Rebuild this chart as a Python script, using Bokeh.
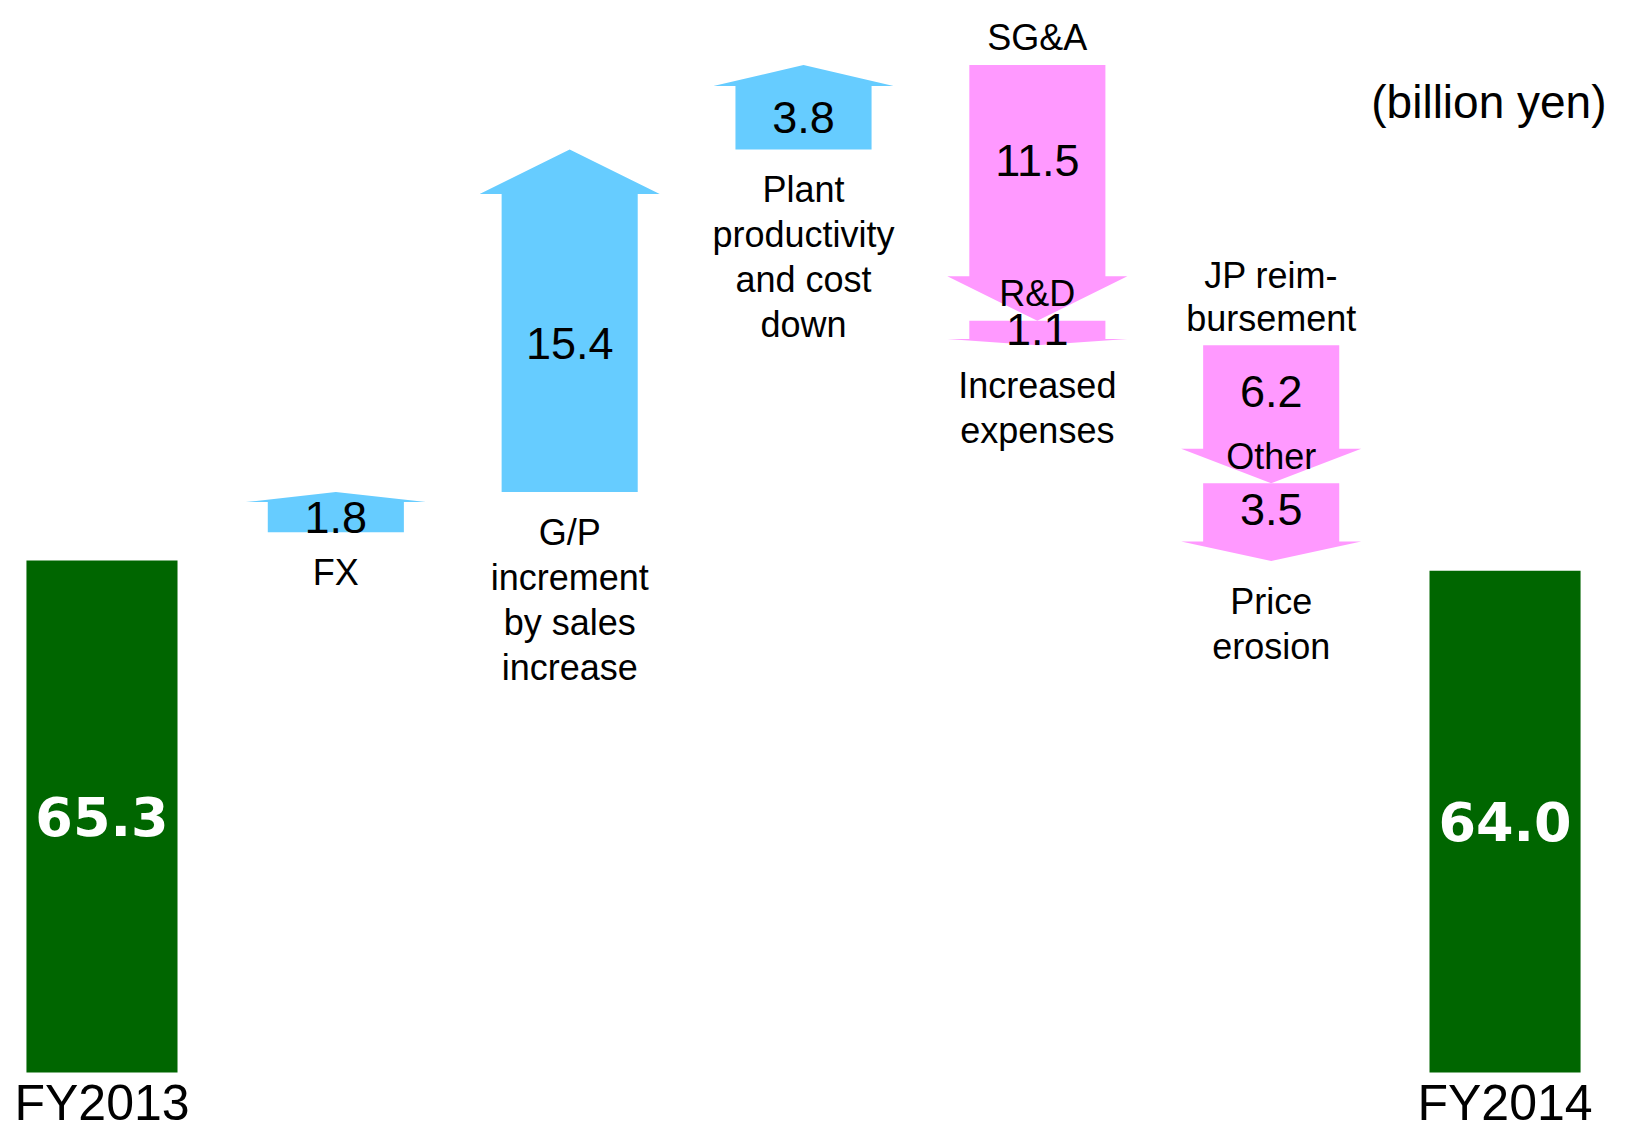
import numpy as np
from bokeh.plotting import figure
from bokeh.models import Range1d, ColumnDataSource
from bokeh.core.properties import value
from bokeh.embed import file_html
from bokeh.resources import INLINE

# ---------------- data ----------------
total_labels = ["FY2013", "FY2014"]
total_values = [65.3, 64.0]

change_items = ["", "", "", "SG&A", "R&D", "JP reim-\nbursement", "Other"]
change_values = [1.8, 15.4, 3.8, -11.5, -1.1, -6.2, -3.5]
change_group = [0, 1, 2, 3, 3, 4, 4]

group_labels = ["FX",
                "G/P\nincrement\nby sales\nincrease",
                "Plant\nproductivity\nand cost\ndown",
                "Increased\nexpenses",
                "Price\nerosion"]

unit_note = "(billion yen)"

# ---------------- style ----------------
UP = "#66CCFF"
DOWN = "#FF99FF"
TOTAL = "#006600"
FONT = "Liberation Sans"
BOX_HALF = 0.291
HEAD_HALF = 0.385
BAR_W = 0.646

# ---------------- layout ----------------
n_groups = len(group_labels)
total_x = [0, n_groups + 1]
change_x = [g + 1 for g in change_group]

levels = np.concatenate([[total_values[0]], total_values[0] + np.cumsum(change_values)])
starts = levels[:-1]
ends = levels[1:]

p = figure(width=1610, height=1132, output_backend="svg", toolbar_location=None,
           x_axis_location=None, y_axis_location=None, min_border=0,
           x_range=Range1d(-0.434, 6.451), y_range=Range1d(38.317, 89.194))
p.extra_y_ranges = {"totals": Range1d(-7.652, 136.72)}
p.outline_line_color = None
p.xgrid.visible = False
p.ygrid.visible = False
p.background_fill_color = "white"
p.border_fill_color = "white"

# totals bars
p.vbar(x=total_x, top=total_values, bottom=0, width=BAR_W, y_range_name="totals",
       fill_color=TOTAL, line_color=None)
p.text(x=total_x, y=[v / 2 for v in total_values], text=[f"{v:.1f}" for v in total_values],
       y_range_name="totals", text_font=value("DejaVu Sans"), text_font_style="bold",
       text_font_size=value("54px"), text_color="white", text_align="center",
       text_baseline="middle")
p.text(x=total_x, y=[0, 0], text=total_labels, y_range_name="totals", y_offset=30,
       text_font=value(FONT), text_font_size=value("50px"), text_color="black",
       text_align="center", text_baseline="middle")

# change arrows
xs, ys, cols, lab_y = [], [], [], []
for x, s, e, v in zip(change_x, starts, ends, change_values):
    sign = 1 if v > 0 else -1
    head = min(0.25 * abs(v), 2.0)
    base = e - sign * head
    xs.append([x - BOX_HALF, x - BOX_HALF, x - HEAD_HALF, x, x + HEAD_HALF, x + BOX_HALF, x + BOX_HALF])
    ys.append([s, base, base, e, base, base, s])
    cols.append(UP if v > 0 else DOWN)
    lab_y.append(s + (base - s) * (0.5 if v > 0 else 0.45))
p.patches(xs, ys, fill_color=cols, line_color=None)

p.text(x=change_x, y=lab_y, text=[f"{abs(v):.1f}" for v in change_values],
       text_font=value(FONT), text_font_size=value("45px"), text_color="black",
       text_align="center", text_baseline="middle")

# labels above individual arrows
LINE = 43
ax, ay, at, ao = [], [], [], []
for x, s, e, lab in zip(change_x, starts, ends, change_items):
    if not lab:
        continue
    lines = lab.split("\n")
    top = max(s, e)
    for k, ln in enumerate(lines):
        ax.append(x)
        ay.append(top)
        at.append(ln)
        ao.append(-27 - (len(lines) - 1 - k) * LINE)
src_a = ColumnDataSource(dict(x=ax, y=ay, text=at, off=ao))
p.text(x="x", y="y", text="text", y_offset="off", source=src_a,
       text_font=value(FONT), text_font_size=value("36px"), text_color="black",
       text_align="center", text_baseline="middle")

# group labels below arrows
LINE_B = 45
bx, by, bt, bo = [], [], [], []
for g, lab in enumerate(group_labels):
    idx = [i for i, gg in enumerate(change_group) if gg == g]
    low = min(min(starts[i], ends[i]) for i in idx)
    for k, ln in enumerate(lab.split("\n")):
        bx.append(g + 1)
        by.append(low)
        bt.append(ln)
        bo.append(40 + k * LINE_B)
src_b = ColumnDataSource(dict(x=bx, y=by, text=bt, off=bo))
p.text(x="x", y="y", text="text", y_offset="off", source=src_b,
       text_font=value(FONT), text_font_size=value("36px"), text_color="black",
       text_align="center", text_baseline="middle")

# unit note
p.text(x=[p.x_range.end], y=[p.y_range.end], text=[unit_note], x_offset=-4, y_offset=101,
       text_font=value(FONT), text_font_size=value("46px"), text_color="black",
       text_align="right", text_baseline="middle")

open("out.html", "w").write(file_html(p, INLINE))
